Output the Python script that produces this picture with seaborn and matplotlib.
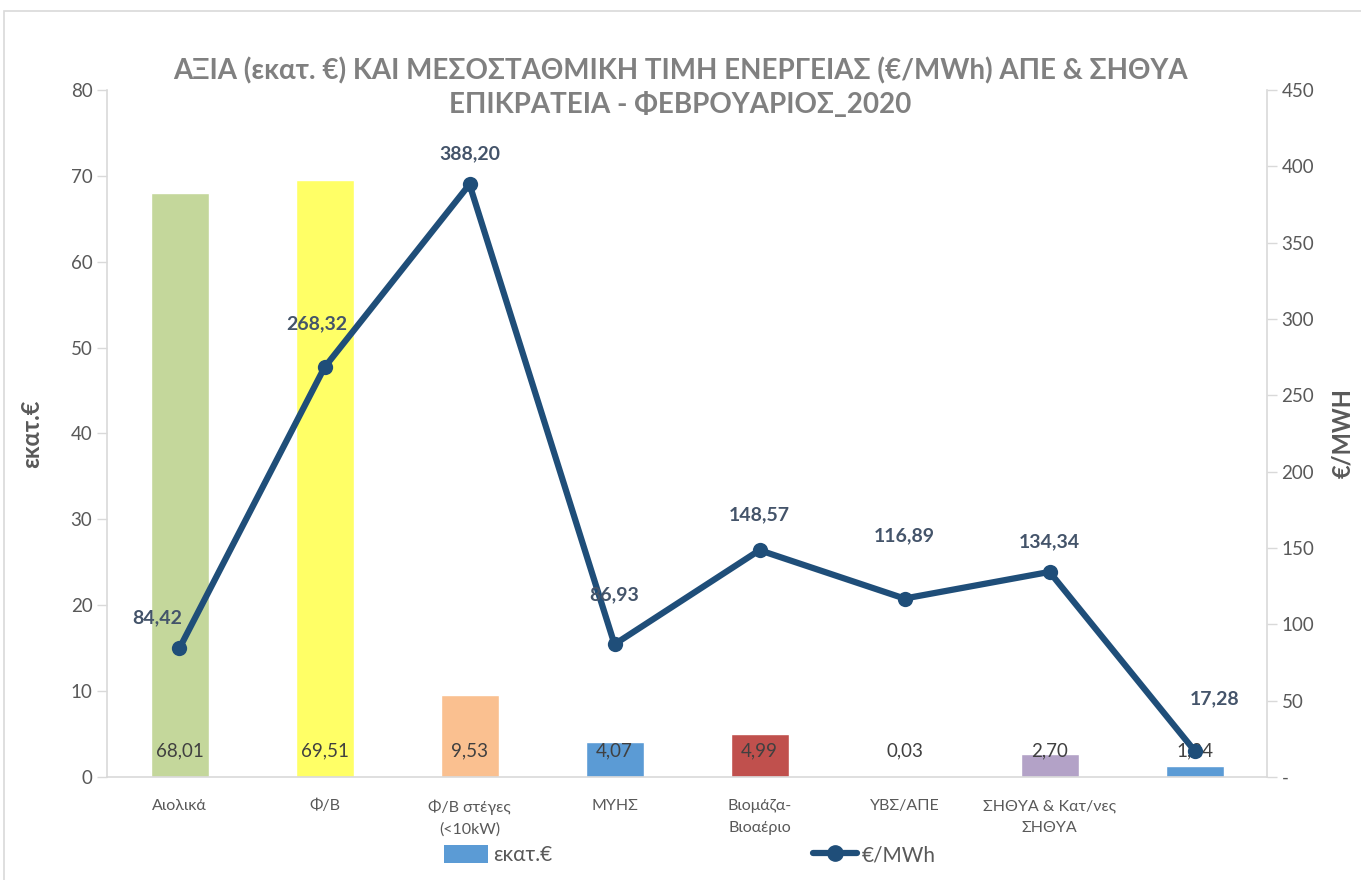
import numpy as np
import pandas as pd
import matplotlib
matplotlib.use("Agg")
import matplotlib.pyplot as plt
import seaborn as sns
from matplotlib.patches import Patch, Rectangle
from matplotlib.lines import Line2D

categories = ["Αιολικά", "Φ/Β", "Φ/Β στέγες\n(<10kW)", "ΜΥΗΣ", "Βιομάζα-\nΒιοαέριο",
              "ΥΒΣ/ΑΠΕ", "ΣΗΘΥΑ & Κατ/νες\nΣΗΘΥΑ", " "]
value_meur = [68.01, 69.51, 9.53, 4.07, 4.99, 0.03, 2.70, 1.24]
price_eur_mwh = [84.42, 268.32, 388.20, 86.93, 148.57, 116.89, 134.34, 17.28]
bar_colors = ["#C4D79B", "#FFFF66", "#FAC090", "#5B9BD5", "#C0504D", "#5B9BD5", "#B3A2C7", "#5B9BD5"]
left_ticks = [0, 10, 20, 30, 40, 50, 60, 70, 80]
right_ticks = [0, 50, 100, 150, 200, 250, 300, 350, 400, 450]
right_tick_labels = ["-", "50", "100", "150", "200", "250", "300", "350", "400", "450"]
title = "ΑΞΙΑ (εκατ. €) ΚΑΙ ΜΕΣΟΣΤΑΘΜΙΚΗ ΤΙΜΗ ΕΝΕΡΓΕΙΑΣ (€/MWh) ΑΠΕ & ΣΗΘΥΑ\nΕΠΙΚΡΑΤΕΙΑ - ΦΕΒΡΟΥΑΡΙΟΣ_2020"

sns.set_theme(style="white")
plt.rcParams["font.family"] = ["Lato", "DejaVu Sans"]

def fmt(v):
    return f"{v:.2f}".replace(".", ",")

W, H = 1361, 880
fig = plt.figure(figsize=(W / 100, H / 100), dpi=100)
fig.patches.append(Rectangle((4 / W, -0.01), 1.0, 1 - 11 / H + 0.01, transform=fig.transFigure,
                             fill=False, edgecolor="#D9D9D9", linewidth=1.2))
ax = fig.add_axes([107 / W, 1 - 777 / H, (1267 - 107) / W, (777 - 90) / H])

df = pd.DataFrame({"cat": categories, "val": value_meur, "pos": np.arange(len(categories))})
sns.barplot(data=df, x="cat", y="val", hue="cat", palette=bar_colors, width=0.4,
            legend=False, ax=ax, saturation=1)
ax.set_xlim(-0.5, len(categories) - 0.5)
ax.set_ylim(0, 80)
ax.set_yticks(left_ticks)
ax.set_ylabel("εκατ.€", fontsize=17, fontweight="bold", color="#595959", labelpad=20)
ax.set_xlabel("")
ax.tick_params(axis="y", colors="#595959", labelsize=13.5, length=7, width=1, direction="out", left=True)
ax.tick_params(axis="y", color="#D9D9D9")
ax.tick_params(axis="x", colors="#595959", labelsize=11.5, length=0, pad=16)
for lbl in ax.get_xticklabels():
    lbl.set_linespacing(1.7)
for s in ["top", "right"]:
    ax.spines[s].set_visible(False)
for s in ["left", "bottom"]:
    ax.spines[s].set_color("#D9D9D9")
    ax.spines[s].set_linewidth(1.2)

for i, v in enumerate(value_meur):
    ax.text(i, 3.1, fmt(v), ha="center", va="center", fontsize=13.5, color="#404040")

ax2 = ax.twinx()
sns.lineplot(x=df["pos"], y=price_eur_mwh, color="#1F4E79", linewidth=4.5, marker="o",
             markersize=11, markeredgewidth=0, ax=ax2, zorder=5)
ax2.set_ylim(0, 450)
ax2.set_yticks(right_ticks)
ax2.set_yticklabels(right_tick_labels)
ax2.set_ylabel("€/MWH", fontsize=17, fontweight="bold", color="#595959", rotation=90, labelpad=12)
ax2.tick_params(axis="y", colors="#595959", labelsize=13.5, length=7, width=1, direction="out", right=True)
ax2.tick_params(axis="y", color="#D9D9D9")
for s in ["top", "left", "bottom"]:
    ax2.spines[s].set_visible(False)
ax2.spines["right"].set_color("#D9D9D9")
ax2.spines["right"].set_linewidth(1.2)
ax2.set_xlim(-0.5, len(categories) - 0.5)

offsets = [(-22, 30), (-8, 44), (0, 31), (0, 50), (0, 35), (0, 63), (0, 30), (20, 52)]
for i, (v, (dx, dy)) in enumerate(zip(price_eur_mwh, offsets)):
    ax2.annotate(fmt(v), (i, v), xytext=(dx * 0.72, dy * 0.72), textcoords="offset points",
                 ha="center", va="center", fontsize=14, fontweight="bold", color="#44546A", zorder=6)

fig.text(0.5, 1 - 88 / H, title, ha="center", va="center", fontsize=20, fontweight="bold",
         color="#808080", linespacing=1.35)

handles = [Patch(facecolor="#5B9BD5", edgecolor="none", label="εκατ.€"),
           Line2D([0], [0], color="#1F4E79", linewidth=4.5, marker="o", markersize=11, label="€/MWh")]
fig.legend(handles=handles, loc="center", bbox_to_anchor=(690 / W, 1 - 855 / H), ncol=2,
           frameon=False, fontsize=15, labelcolor="#595959", columnspacing=12.5, handlelength=2.1,
           handleheight=1.0, handletextpad=0.25)

fig.savefig("out.png", dpi=100)
